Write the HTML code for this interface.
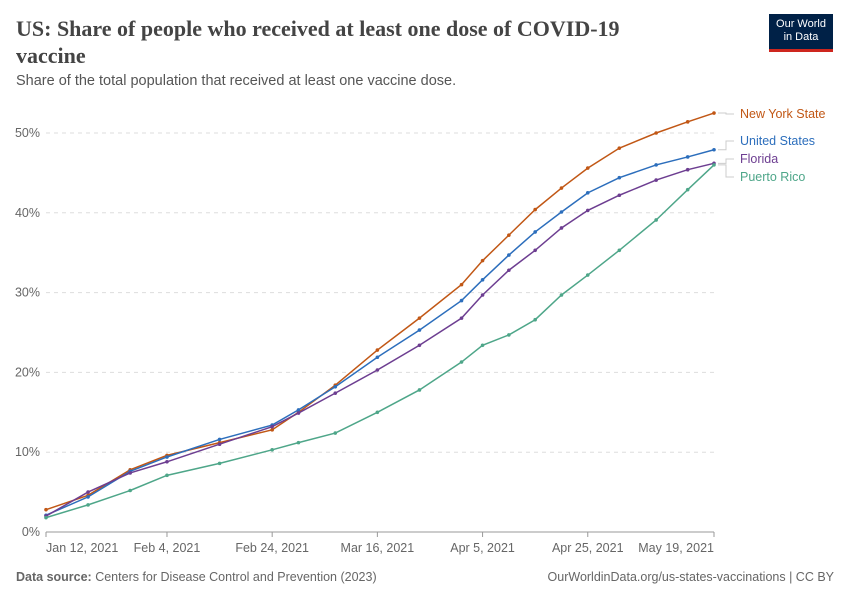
<!DOCTYPE html>
<html><head><meta charset="utf-8"><style>
body{margin:0;background:#fff;font-family:"Liberation Sans",sans-serif;}
#wrap{position:relative;width:850px;height:600px;overflow:hidden;}
.t{position:absolute;}
</style></head><body>
<div id="wrap">
<div class="t" style="left:16px;top:15px;width:640px;font-family:'Liberation Serif',serif;font-size:22px;line-height:27px;color:#444;font-weight:bold;">US: Share of people who received at least one dose of COVID-19 vaccine</div>
<div class="t" style="left:16px;top:73px;font-size:14.5px;color:#555;">Share of the total population that received at least one vaccine dose.</div>
<div class="t" style="left:769px;top:14px;width:64px;height:38px;background:#002147;border-bottom:3px solid #ce261e;color:#fff;font-size:11px;line-height:13px;text-align:center;padding-top:4px;box-sizing:border-box;">Our World<br>in Data</div>
<div class="t" style="left:16px;top:570px;font-size:12.5px;color:#666;"><b>Data source:</b> Centers for Disease Control and Prevention (2023)</div>
<div class="t" style="right:16px;top:570px;font-size:12.5px;color:#666;">OurWorldinData.org/us-states-vaccinations | CC BY</div>
<svg id="chart" width="850" height="600" style="position:absolute;left:0;top:0"></svg>
</div>
<script>
const days=[0,8,16,23,33,43,48,55,63,71,79,83,88,93,98,103,109,116,122,127];
const nyValues=[2.8,4.6,7.8,9.6,11.2,12.8,15,18.4,22.8,26.8,31,34,37.2,40.4,43.1,45.6,48.1,50,51.4,52.5];
const usValues=[2.1,4.4,7.6,9.4,11.6,13.4,15.3,18.2,21.9,25.3,29,31.6,34.7,37.6,40.1,42.5,44.4,46,47,47.9];
const flValues=[2.0,5.0,7.4,8.8,11.0,13.2,14.9,17.4,20.3,23.4,26.8,29.7,32.8,35.3,38.1,40.3,42.2,44.1,45.4,46.2];
const prValues=[1.8,3.4,5.2,7.1,8.6,10.3,11.2,12.4,15,17.8,21.3,23.4,24.7,26.6,29.7,32.2,35.3,39.1,42.9,46];
const yTicks=[0,10,20,30,40,50];
const xTickDays=[0,23,43,63,83,103,127];
const xTickLabels=["Jan 12, 2021","Feb 4, 2021","Feb 24, 2021","Mar 16, 2021","Apr 5, 2021","Apr 25, 2021","May 19, 2021"];
const seriesNames=["New York State","United States","Florida","Puerto Rico"];
const seriesColors=["#c15715","#2c6ebc","#6d3e91","#4ea689"];
const labelY=[118,145,163,181];

const svg=document.getElementById('chart');const NS="http://www.w3.org/2000/svg";
const x=d=>46+d*(714-46)/127;
const y=v=>532-v*7.98;
function mk(t,a,p){const e=document.createElementNS(NS,t);for(const k in a)e.setAttribute(k,a[k]);(p||svg).appendChild(e);return e;}
yTicks.forEach(v=>{
 const l=mk('line',{x1:46,x2:714,y1:y(v),y2:y(v),stroke:v?'#ddd':'#999','stroke-dasharray':v?'4,4':''});
 
 const t=mk('text',{x:40,y:y(v)+4,'text-anchor':'end','font-size':12.5,fill:'#666'});t.textContent=v+'%';
 
});
xTickDays.forEach((d,i)=>{
 mk('line',{x1:x(d),x2:x(d),y1:532,y2:537,stroke:'#999'});
 const anc=i==0?'start':(i==xTickDays.length-1?'end':'middle');
 const t=mk('text',{x:x(d),y:552,'text-anchor':anc,'font-size':12.5,fill:'#666'});t.textContent=xTickLabels[i];
 
});
[nyValues,usValues,flValues,prValues].forEach((vals,si)=>{
 const c=seriesColors[si];
 const p=mk('polyline',{points:vals.map((v,i)=>x(days[i])+','+y(v)).join(' '),fill:'none',stroke:c,'stroke-width':1.5});
 
 vals.forEach((v,i)=>{const m=mk('circle',{cx:x(days[i]),cy:y(v),r:1.8,fill:c});
  });
 const ey=y(vals[vals.length-1]);
 mk('polyline',{points:`718,${ey} 726,${ey} 726,${labelY[si]-4} 734,${labelY[si]-4}`,fill:'none',stroke:'#ccc'});
 const t=mk('text',{x:740,y:labelY[si],'font-size':12.5,fill:c});t.textContent=seriesNames[si];
 
});
</script>
</body></html>
